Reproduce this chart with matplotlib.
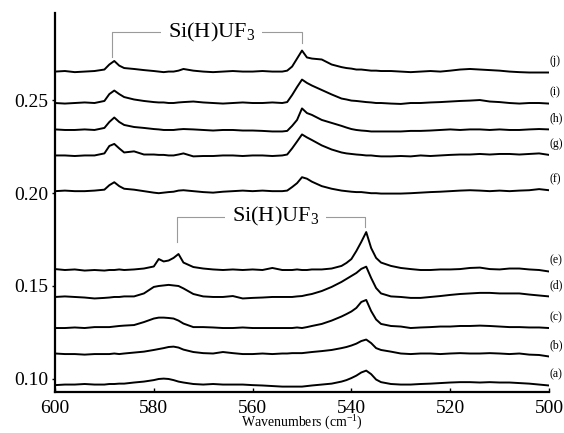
import numpy as np
import matplotlib
matplotlib.use('Agg')
import matplotlib.pyplot as plt

plt.rcParams['font.family'] = 'Liberation Serif'
plt.rcParams['mathtext.fontset'] = 'custom'
plt.rcParams['mathtext.rm'] = 'Liberation Serif'
plt.rcParams['mathtext.it'] = 'Liberation Serif:italic'

# wavenumber grid (cm-1)
wn = [600, 598, 596, 594, 592,
      590, 589, 588, 587, 586,
      584, 582, 580, 579, 578,
      577, 576, 575, 574, 572,
      570, 568, 566, 564, 562,
      560, 558, 556, 554, 553,
      552, 551, 550, 549, 548,
      546, 544, 542, 541, 540,
      539, 538, 537, 536, 535,
      534, 532, 530, 528, 526,
      524, 522, 520, 518, 516,
      514, 512, 510, 508, 506,
      504, 502, 500]

# baseline offset of each spectrum (absorbance)
labels = ['(a)', '(b)', '(c)', '(d)', '(e)', '(f)', '(g)', '(h)', '(i)', '(j)']
offsets = [0.0970, 0.1134, 0.1274, 0.1441, 0.1586,
           0.2010, 0.2202, 0.2339, 0.2484, 0.2653]

# spectra above their baseline, in milli-absorbance
spec_a = [-0.3, 0, 0, 0.3, 0,
          0, 0.3, 0.3, 0.5, 0.5,
          1.1, 1.6, 2.4, 3.0, 3.2,
          3.0, 2.4, 1.6, 1.1, 0.3,
          0, 0.3, 0, 0, 0,
          -0.3, -0.5, -0.8, -1.1, -1.1,
          -1.1, -1.1, -1.1, -0.8, -0.5,
          0, 0.5, 1.6, 2.4, 3.5,
          4.8, 6.5, 7.5, 5.6, 2.7,
          1.3, 0.3, 0, 0, 0.3,
          0.5, 0.8, 1.1, 1.3, 1.3,
          1.1, 1.3, 1.1, 1.1, 0.8,
          0.5, 0, -0.5]
spec_b = [0.3, 0, 0, -0.3, 0,
          0, 0, 0.3, 0, 0.3,
          0.8, 1.3, 2.2, 2.7, 3.2,
          3.8, 4.0, 3.5, 2.4, 1.1,
          0.5, 0.3, 1.1, 0.5, 0,
          0, 0.3, 0, 0.3, 0.3,
          0.5, 0.5, 0.5, 0.8, 1.1,
          1.6, 2.2, 3.2, 3.8, 4.6,
          5.6, 7.0, 7.8, 5.9, 3.2,
          2.2, 1.3, 0.3, 0, 0.3,
          0.3, 0, 0.3, 0.5, 0.3,
          0.3, 0.5, 0.3, 0, 0.3,
          -0.3, -0.5, -1.3]
spec_c = [0, 0, 0.3, 0, 0.5,
          0.5, 0.5, 0.8, 1.1, 1.3,
          1.6, 3.2, 5.1, 5.6, 5.6,
          5.4, 5.1, 4.0, 2.4, 0.5,
          0.5, 0.3, 0, 0, 0.3,
          0, 0, 0, 0, 0,
          0, 0.3, 0, 0.5, 1.1,
          2.2, 4.0, 6.2, 7.5, 8.9,
          10.8, 14.0, 15.1, 9.1, 4.6,
          2.2, 1.1, 0.8, 0, 0.3,
          0.5, 0.8, 0.8, 1.1, 1.1,
          1.3, 1.1, 0.8, 0.5, 0.5,
          0.3, 0.3, 0]
spec_d = [0, 0.3, 0, -0.3, -0.8,
          -0.5, -0.3, 0, 0, 0.3,
          0.3, 1.9, 5.4, 5.9, 6.2,
          6.5, 6.2, 5.9, 4.6, 1.6,
          0.3, 0, 0, 0.5, -0.8,
          -0.5, -0.3, 0, 0, 0,
          0, 0.3, 0.5, 1.1, 1.6,
          3.2, 5.4, 8.1, 9.7, 11.3,
          12.9, 15.1, 16.3, 10.2, 4.8,
          1.9, 0.3, 0, -0.5, -0.5,
          0, 0.5, 1.1, 1.6, 1.9,
          2.2, 2.2, 1.9, 1.9, 1.9,
          1.3, 0.8, 0.3]
spec_e = [0.5, 0, 0.3, -0.3, 0,
          -0.3, 0, 0, 0.3, 0,
          0.3, 0.8, 1.9, 5.9, 4.6,
          5.1, 6.5, 8.6, 4.0, 1.6,
          0.8, 0.3, 0, 0.3, 0,
          0.3, 0, 1.1, 0, 0,
          0, 0.3, 0, 0, 0.3,
          0.3, 0.8, 2.2, 3.8, 5.9,
          10.2, 15.1, 20.4, 11.8, 6.5,
          4.0, 2.2, 1.1, 0.5, 0,
          0, 0.3, 0.3, 0.5, 1.1,
          1.3, 0.5, 0.3, 0.8, 0.8,
          0.3, 0, -0.8]
spec_f = [0, 0.3, 0, 0, 0.3,
          0.8, 3.2, 4.8, 2.7, 1.3,
          0.8, 0, -0.8, -1.1, -0.8,
          -0.5, -0.3, 0.3, 0.5, 0,
          -0.5, -0.8, -0.3, 0, 0.3,
          0, 0.3, 0, 0, 0.3,
          2.2, 4.3, 7.5, 6.7, 5.1,
          2.7, 1.3, 0.3, 0, -0.3,
          -0.5, -0.5, -0.8, -1.1, -1.1,
          -1.3, -1.3, -1.3, -1.1, -0.8,
          -0.5, -0.3, 0, 0.3, 0.5,
          0.3, 0, 0.3, 0, 0.3,
          0.5, 1.1, 0.5]
spec_g = [0, 0, -0.3, 0, 0,
          1.1, 5.1, 6.2, 3.8, 1.6,
          2.2, 0.5, 0.5, 0.3, 0.3,
          0, 0, 0.5, 1.1, -0.5,
          -0.3, -0.3, 0, 0, -0.3,
          0, 0, -0.3, 0, 0.5,
          3.8, 7.5, 11.3, 9.7, 8.3,
          5.4, 3.2, 1.6, 1.1, 0.8,
          0.5, 0.3, 0, 0, -0.3,
          -0.5, -0.5, -0.3, -0.5, 0,
          -0.3, 0, 0.3, 0.5, 0.5,
          0.8, 0.5, 0.8, 0.8, 0.5,
          0.8, 1.1, 0.3]
spec_h = [0.3, 0, 0, 0.3, 0,
          1.1, 4.3, 6.7, 4.3, 2.7,
          1.6, 1.1, 0.5, 0.3, 0,
          0, 0, 0.3, 0.5, 0.3,
          0, -0.3, 0, 0, -0.3,
          -0.3, -0.5, -0.8, -0.8, -0.5,
          2.2, 5.4, 11.6, 9.1, 8.1,
          5.4, 3.8, 2.2, 1.3, 0.5,
          0, -0.3, -0.5, -0.8, -0.8,
          -0.8, -0.8, -0.8, -0.5, -0.5,
          -0.3, 0, 0.3, 0, 0.3,
          0.3, 0, 0.3, 0, 0,
          0.3, 0.5, 0.3]
spec_i = [0, -0.3, 0, 0.3, 0,
          1.1, 4.8, 6.7, 4.8, 3.2,
          1.9, 1.1, 0.5, 0.3, 0.3,
          0, 0, 0.3, 0.5, 0.8,
          0.3, 0, -0.3, 0, 0.3,
          0, 0, 0.3, 0, 0.5,
          4.3, 8.6, 12.6, 10.8, 9.4,
          7.0, 4.6, 2.4, 1.9, 1.3,
          1.1, 0.8, 0.5, 0.3, 0,
          0, -0.3, -0.5, 0, 0,
          0.3, 0.5, 0.8, 1.1, 1.3,
          1.6, 0.8, 0.5, 0, -0.3,
          0, 0, -0.3]
spec_j = [0, 0.3, -0.3, 0, 0.3,
          1.1, 3.8, 5.7, 3.2, 1.9,
          1.4, 0.8, 0.3, 0, -0.3,
          0, 0, 0.5, 1.4, 0.5,
          0, -0.3, 0, 0.3, 0,
          0, 0.3, 0, 0, 0.5,
          2.7, 7.0, 11.3, 7.6, 7.0,
          6.5, 3.8, 2.4, 1.9, 1.6,
          1.1, 1.1, 0.8, 0.5, 0.5,
          0.3, 0.3, 0, -0.3, 0,
          0.3, 0, 0.5, 1.1, 1.4,
          1.1, 0.8, 0.5, 0, -0.3,
          -0.5, -0.5, -0.5]

# band positions marked with brackets (cm-1)
top_bands = [588.4, 550.1]
bottom_bands = [575.4, 537.2]

spectra = [spec_a, spec_b, spec_c, spec_d, spec_e,
           spec_f, spec_g, spec_h, spec_i, spec_j]

fig = plt.figure(figsize=(5.64, 4.33), dpi=100)
ax = fig.add_axes([55 / 564, 1 - 392 / 433, 494 / 564, 379 / 433])

x = np.array(wn)
for off, spec, lab in zip(offsets, spectra, labels):
    y = off + np.array(spec) / 1000.0
    ax.plot(x, y, color='black', lw=1.4, solid_joinstyle='round')
    ax.annotate(lab, xy=(x[-1], y[-1]), xytext=(0.5, 8),
                textcoords='offset points', ha='left', va='center',
                fontsize=8.5, annotation_clip=False)


def bracket(bands, y_top, y_left, y_right, text_x):
    gray = '#9a9a9a'
    ax.plot([bands[0], bands[0], bands[1], bands[1]],
            [y_left, y_top, y_top, y_right], color=gray, lw=0.8)
    ax.text(text_x, y_top, 'Si(H)UF$_3$', ha='center', va='center',
            fontsize=16, bbox=dict(facecolor='white', edgecolor='none', pad=5))


bracket(top_bands, 0.2865, 0.2731, 0.2806, 568.3)
bracket(bottom_bands, 0.1873, 0.1738, 0.1819, 555.4)

ax.set_xlim(600, 500)
ax.set_ylim(0.0930, 0.2968)
ax.set_xticks([600, 580, 560, 540, 520, 500])
ax.set_yticks([0.10, 0.15, 0.20, 0.25])
ax.set_yticklabels(['0.10', '0.15', '0.20', '0.25'])

for s in ['top', 'right']:
    ax.spines[s].set_visible(False)
for s in ['left', 'bottom']:
    ax.spines[s].set_linewidth(1.6)

ax.tick_params(axis='y', direction='out', length=2, width=1, labelsize=14, pad=3)
ax.tick_params(axis='x', direction='in', length=3, width=1, labelsize=14, pad=5.5)
ax.set_xlabel('Wavenumbers (cm$^{-1}$)', fontsize=10)
ax.xaxis.label.set_va('bottom')
ax.xaxis.set_label_coords(0.5, -40 / 379)

plt.savefig('out.png', dpi=100)
